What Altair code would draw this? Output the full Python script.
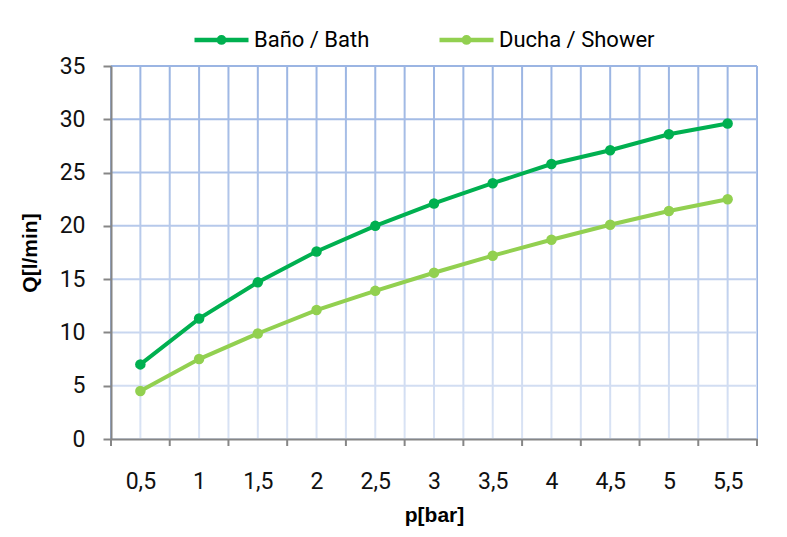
import altair as alt
import pandas as pd

# ---- data ----
pressure = [0.5, 1, 1.5, 2, 2.5, 3, 3.5, 4, 4.5, 5, 5.5]
bath = [7.0, 11.3, 14.7, 17.6, 20.0, 22.1, 24.0, 25.8, 27.1, 28.6, 29.6]
shower = [4.5, 7.5, 9.9, 12.1, 13.9, 15.6, 17.2, 18.7, 20.1, 21.4, 22.5]
series_names = ["Baño / Bath", "Ducha / Shower"]
series_colors = ["#00b050", "#92d050"]
y_ticks = [0, 5, 10, 15, 20, 25, 30, 35]

W, H = 646, 373
x_min, x_max = pressure[0] - 0.25, pressure[-1] + 0.25

df = pd.DataFrame({
    "p": pressure * 2,
    "q": bath + shower,
    "serie": [series_names[0]] * len(pressure) + [series_names[1]] * len(pressure),
})

x_bounds = [v - 0.25 for v in pressure] + [pressure[-1] + 0.25]
x_grid = sorted(set(x_bounds + pressure))
vgrid_df = pd.DataFrame({"gx": x_grid})
hgrid_df = pd.DataFrame({"gy": y_ticks})
xtick_df = pd.DataFrame({"tx": x_bounds})

xscale = alt.Scale(domain=[x_min, x_max], nice=False, zero=False)
yscale = alt.Scale(domain=[y_ticks[0], y_ticks[-1]], nice=False)
cscale = alt.Scale(domain=series_names, range=series_colors)

GRID = "#9bb5e3"
AXC = "#868686"

x_axis = alt.Axis(
    values=pressure,
    format="~g",
    title="p[bar]",
    grid=False,
    ticks=False,
    domainColor=AXC, domainWidth=2,
    labelFont="Roboto", labelFontSize=23, labelColor="#111111",
    labelPadding=31, labelOverlap=False, labelFlush=False,
    titleFont="Liberation Sans", titleFontSize=21, titleFontWeight="bold", titleColor="#000000",
    titleX=W / 2, titleY=76, titleAlign="center", titleBaseline="middle",
    zindex=1,
)
y_axis = alt.Axis(
    values=y_ticks,
    title="Q[l/min]",
    grid=False,
    domainColor=AXC, domainWidth=2,
    tickColor=AXC, tickWidth=2, tickSize=8,
    labelFont="Roboto", labelFontSize=23, labelColor="#111111",
    labelPadding=18,
    titleFont="Liberation Sans", titleFontSize=21, titleFontWeight="bold", titleColor="#000000",
    titleX=-81, titleY=H / 2, titleAngle=270, titleAlign="center", titleBaseline="middle",
    zindex=1,
)

vgrid = alt.Chart(vgrid_df).mark_rule(color=GRID, strokeWidth=2).encode(
    x=alt.X("gx:Q", scale=xscale, axis=x_axis)
)
hgrid = alt.Chart(hgrid_df).mark_rule(color=GRID, strokeWidth=2).encode(
    y=alt.Y("gy:Q", scale=yscale, axis=y_axis)
)

fade = alt.Chart(pd.DataFrame({"a": [0]})).mark_rect(
    fill=alt.Gradient(
        gradient="linear",
        stops=[
            alt.GradientStop(color="rgba(255,255,255,0)", offset=0),
            alt.GradientStop(color="rgba(255,255,255,0.64)", offset=1),
        ],
        x1=0, x2=0, y1=0, y2=1,
    )
).encode(
    x=alt.datum(x_min, scale=xscale),
    x2=alt.datum(x_max),
    y=alt.datum(y_ticks[-1], scale=yscale),
    y2=alt.datum(y_ticks[0]),
)

# category-boundary tick marks below the x axis
xticks = alt.Chart(xtick_df).mark_rule(color=AXC, strokeWidth=2).encode(
    x=alt.X("tx:Q", scale=xscale),
    y=alt.value(H),
    y2=alt.value(H + 7),
)

legend_symbol = "M-1,0H1M-0.1,0A0.1,0.1 0 1,0 0.1,0A0.1,0.1 0 1,0 -0.1,0"

lines = alt.Chart(df).mark_line(strokeWidth=4).encode(
    x=alt.X("p:Q", scale=xscale),
    y=alt.Y("q:Q", scale=yscale),
    color=alt.Color(
        "serie:N", scale=cscale,
        legend=alt.Legend(
            orient="none", legendX=81, legendY=-56, direction="horizontal", title=None,
            symbolType=legend_symbol, symbolSize=2916, symbolStrokeWidth=4.5,
            labelFont="Roboto", labelFontSize=22, labelColor="#000000", labelOffset=3,
            columnPadding=60, padding=0,
        ),
    ),
    detail="serie:N",
)

points = alt.Chart(df).mark_circle(size=110, opacity=1).encode(
    x=alt.X("p:Q", scale=xscale),
    y=alt.Y("q:Q", scale=yscale),
    fill=alt.Fill("serie:N", scale=cscale, legend=None),
)

chart = alt.layer(vgrid, hgrid, fade, xticks, lines, points).properties(
    width=W, height=H,
    autosize=alt.AutoSizeParams(type="none"),
    padding={"left": 103, "top": 58, "right": 20, "bottom": 90},
    background="#ffffff",
).configure_view(
    strokeOpacity=0
).configure(
    locale=alt.Locale(number=alt.NumberLocale(decimal=",", thousands=".", grouping=[3], currency=["", " €"]))
)

chart.save("out.html", embed_options={"renderer": "svg", "actions": False})
